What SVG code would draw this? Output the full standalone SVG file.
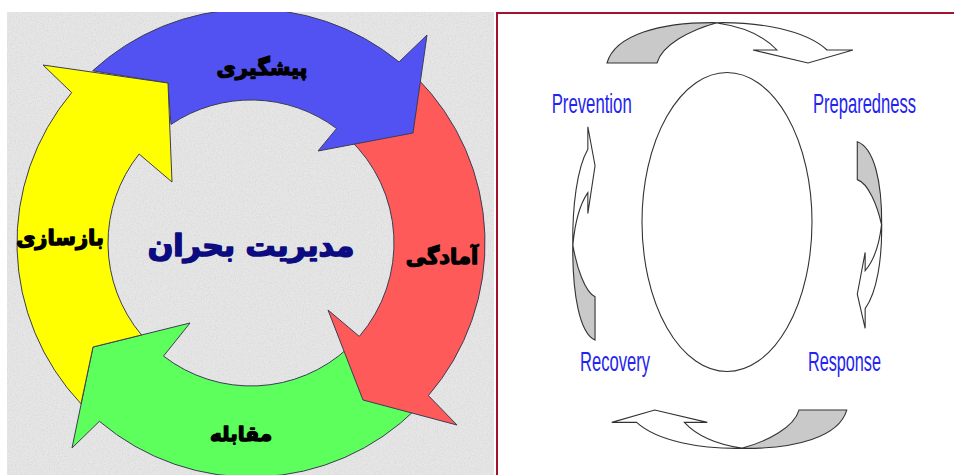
<svg xmlns="http://www.w3.org/2000/svg" xmlns:xlink="http://www.w3.org/1999/xlink" width="954" height="475" viewBox="0 0 954 475">
  <style>
    .ring { stroke: #3c3c55; stroke-width: 1; stroke-linejoin: miter; }
    .fa { font-family: "DejaVu Sans", "Noto Sans", sans-serif; font-weight: bold; text-anchor: middle; stroke-linejoin: round; }
    .en { font-family: "Liberation Sans", Arial, sans-serif; fill: #2424ee; font-size: 28px; }
    .ca { stroke: #333; stroke-width: 1.1; vector-effect: non-scaling-stroke; stroke-linejoin: miter; }
    .frame { stroke: #a5122d; stroke-width: 2; fill: none; }
  </style>
  <defs>
    <clipPath id="panel"><rect x="7" y="12" width="487" height="463"/></clipPath>
    <filter id="noise" x="0" y="0" width="1" height="1">
      <feTurbulence type="fractalNoise" baseFrequency="0.85" numOctaves="2" seed="4"/>
      <feColorMatrix type="matrix" values="0 0 0 0 0.6  0 0 0 0 0.6  0 0 0 0 0.6  1.1 0 0 0 -0.45"/>
    </filter>
    <g id="carrow">
      <path class="ca" fill="#c9c9c9" d="M607,63 C615,35 660,22 717,22.7 C690,30 662,45 657,63 Z"/>
      <path class="ca" fill="#ffffff" d="M717,22.7 C760,22 805,30 827,50 L853,50 L808,63 L753,50 L777,50 C765,37 745,27 717,23 Z"/>
    </g>
  </defs>

  <rect width="954" height="475" fill="#ffffff"/>

  <!-- left panel -->
  <g id="left-panel" clip-path="url(#panel)">
    <rect x="7" y="12" width="487" height="463" fill="#e6e6e6"/>
    <rect x="7" y="12" width="487" height="463" fill="#fff" filter="url(#noise)"/>
    <g id="arrow-green"><path class="ring" fill="#5cff5c" d="M416.5,408.5 A234,234 0 0 1 99.4,421.3 L72,448 L93,347 L190,323 L163.5,356.1 A143,143 0 0 0 348.5,347.6 Z"/></g>
    <g id="arrow-red"><path class="ring" fill="#ff5a5a" d="M416.5,77.5 A234,234 0 0 1 428.4,395.6 L457,425 L363,400 L328,310 L359.3,336.4 A143,143 0 0 0 348.5,138.4 Z"/></g>
    <g id="arrow-blue"><path class="ring" fill="#5252f2" d="M92.6,70.8 A234,234 0 0 1 399.1,61.9 L427,35 L413,133 L318,151 L336.6,128.5 A143,143 0 0 0 171,124.4 L168,83 Z"/></g>
    <g id="arrow-yellow"><path class="ring" fill="#ffff00" d="M81,403.8 A234,234 0 0 1 71.7,92.6 L43,65 L168,83 L172,182 L139.1,154 A143,143 0 0 0 141.5,335 L93,347 Z"/></g>
    <g id="label-prevention-fa"><text class="fa" x="262" y="75" font-size="21" fill="#000" stroke="#000" stroke-width="1.3">پیشگیری</text></g>
    <g id="label-recovery-fa"><text class="fa" x="60" y="245" font-size="21" fill="#000" stroke="#000" stroke-width="1.3">بازسازی</text></g>
    <g id="label-preparedness-fa"><text class="fa" x="442" y="264" font-size="21" fill="#000" stroke="#000" stroke-width="1.3">آمادگی</text></g>
    <g id="label-response-fa"><text class="fa" x="241" y="441" font-size="20" fill="#000" stroke="#000" stroke-width="1.3">مقابله</text></g>
    <g id="title-fa"><text class="fa" x="251" y="256" font-size="30" fill="#0c0c80" stroke="#0c0c80" stroke-width="1.6">مدیریت بحران</text></g>
  </g>

  <!-- right panel frame -->
  <path class="frame" d="M497,475 L497,13 L954,13"/>

  <g id="cycle-ellipse"><ellipse cx="727" cy="222" rx="85" ry="149.5" fill="none" stroke="#333" stroke-width="1.1"/></g>

  <g id="connectors">
    <use xlink:href="#carrow"/>
    <use xlink:href="#carrow" transform="matrix(0,0.7585,-0.605,0,895.4,-318.7)"/>
    <use xlink:href="#carrow" transform="matrix(-0.955,0,0,-0.95,1426.4,469.9)"/>
    <use xlink:href="#carrow" transform="matrix(0,-0.867,0.553,0,560.2,866.3)"/>
  </g>

  <g id="prevention"><text class="en" transform="translate(551.7,113) scale(0.59,1)" textLength="135.6" lengthAdjust="spacingAndGlyphs">Prevention</text></g>
  <g id="preparedness"><text class="en" transform="translate(813,113) scale(0.59,1)" textLength="174.6" lengthAdjust="spacingAndGlyphs">Preparedness</text></g>
  <g id="response"><text class="en" transform="translate(808,370.5) scale(0.59,1)" textLength="123.7" lengthAdjust="spacingAndGlyphs">Response</text></g>
  <g id="recovery"><text class="en" transform="translate(580,370.5) scale(0.59,1)" textLength="118.6" lengthAdjust="spacingAndGlyphs">Recovery</text></g>
</svg>
